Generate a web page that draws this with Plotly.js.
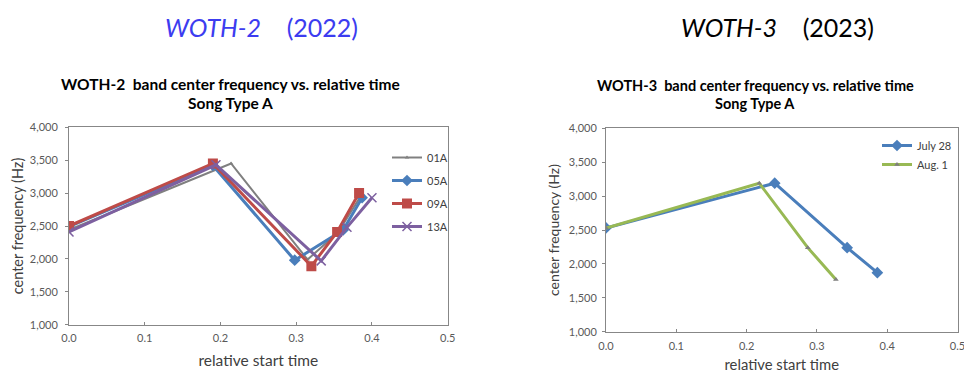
<!DOCTYPE html>
<html>
<head>
<meta charset="utf-8">
<script src="https://cdn.plot.ly/plotly-3.0.1.min.js"></script>
<style>html,body{margin:0;padding:0;background:#fff;}#chart{width:964px;height:373px;}</style>
</head>
<body>
<div id="chart"></div>
<script>
// WOTH-2 (2022) series
const t01A = [0.0, 0.214, 0.315, 0.355, 0.385];
const f01A = [2440, 3450, 1990, 2400, 2950];
const t05A = [0.0, 0.19, 0.298, 0.362, 0.387];
const f05A = [2490, 3420, 1980, 2440, 2930];
const t09A = [0.0, 0.19, 0.32, 0.354, 0.383];
const f09A = [2500, 3450, 1890, 2410, 3000];
const t13A = [0.0, 0.194, 0.333, 0.367, 0.40];
const f13A = [2410, 3430, 1970, 2480, 2930];
// WOTH-3 (2023) series
const tJuly28 = [0.0, 0.24, 0.343, 0.386];
const fJuly28 = [2530, 3190, 2240, 1870];
const tAug1 = [0.0, 0.218, 0.287, 0.327];
const fAug1 = [2530, 3190, 2240, 1770];
// ticks
const xTicks = [0, 0.1, 0.2, 0.3, 0.4, 0.5];
const yTicks = [1000, 1500, 2000, 2500, 3000, 3500, 4000];

const FONT = 'Lato, "Open Sans", sans-serif';
const traces = [
  {x: t01A, y: f01A, name: '01A', mode: 'lines+markers', xaxis: 'x', yaxis: 'y', legend: 'legend', legendgroup: 'a',
   line: {color: '#808080', width: 2}, marker: {symbol: 'triangle-up', size: 4, color: '#808080'}},
  {x: t05A, y: f05A, name: '05A', mode: 'lines+markers', xaxis: 'x', yaxis: 'y', legend: 'legend', legendgroup: 'b',
   line: {color: '#4A7EBB', width: 3}, marker: {symbol: 'diamond', size: 9, color: '#4A7EBB'}},
  {x: t09A, y: f09A, name: '09A', mode: 'lines+markers', xaxis: 'x', yaxis: 'y', legend: 'legend', legendgroup: 'c',
   line: {color: '#BE4B48', width: 3}, marker: {symbol: 'square', size: 10, color: '#BE4B48'}},
  {x: t13A, y: f13A, name: '13A', mode: 'lines+markers', xaxis: 'x', yaxis: 'y', legend: 'legend', legendgroup: 'd',
   line: {color: '#7D60A0', width: 3}, marker: {symbol: 'x-thin', size: 9, color: '#7D60A0', line: {color: '#7D60A0', width: 1.5}}},
  {x: tJuly28, y: fJuly28, name: 'July 28', mode: 'lines+markers', xaxis: 'x2', yaxis: 'y2', legend: 'legend2', legendgroup: 'e',
   line: {color: '#4A7EBB', width: 3}, marker: {symbol: 'diamond', size: 9, color: '#4A7EBB'}},
  {x: tAug1, y: fAug1, name: 'Aug. 1', mode: 'lines+markers', xaxis: 'x2', yaxis: 'y2', legend: 'legend2', legendgroup: 'f',
   line: {color: '#98B954', width: 3}, marker: {symbol: 'triangle-up', size: 5, color: '#7F7F7F'}}
];

function xAxis(domain, anchor, titleSize, standoff, lblOff) {
  return {domain: domain, anchor: anchor, range: [0, 0.5], tickvals: xTicks, tickformat: '.1f',
    showgrid: false, zeroline: false, showline: true, mirror: true, linecolor: '#878787', linewidth: 1,
    ticks: 'inside', ticklen: 3, tickcolor: '#878787', tickfont: {family: FONT, size: 11, color: '#595959'},
    ticklabelstandoff: lblOff, ticklabeloverflow: 'allow',
    title: {text: 'relative start time', font: {family: FONT, size: titleSize, color: '#404040'}, standoff: standoff},
    automargin: false, fixedrange: true};
}
function yAxis(domain, anchor, titleSize, standoff, lblOff) {
  return {domain: domain, anchor: anchor, range: [1000, 4000], tickvals: yTicks, tickformat: ',',
    showgrid: false, zeroline: false, showline: true, mirror: true, linecolor: '#878787', linewidth: 1,
    ticks: 'outside', ticklen: 3, tickcolor: '#878787', tickfont: {family: FONT, size: 11, color: '#595959'},
    ticklabelstandoff: lblOff, ticklabeloverflow: 'allow',
    title: {text: 'center frequency (Hz)', font: {family: FONT, size: titleSize, color: '#404040'}, standoff: standoff},
    automargin: false, fixedrange: true};
}

const layout = {
  width: 964, height: 373,
  margin: {l: 0, r: 0, t: 0, b: 0},
  paper_bgcolor: '#ffffff', plot_bgcolor: '#ffffff',
  font: {family: FONT},
  showlegend: true,
  xaxis: xAxis([69/964, 447.7/964], 'y', 15.5, 12, 3),
  yaxis: yAxis([1 - 324.7/373, 1 - 127.3/373], 'x', 14.5, 2, 5),
  xaxis2: xAxis([606/964, 957.5/964], 'y2', 14.8, 12, 4),
  yaxis2: yAxis([1 - 331.7/373, 1 - 128.3/373], 'x2', 14, 5, 3),
  legend: {x: 387/964, y: 1 - 143/373, xanchor: 'left', yanchor: 'top', bgcolor: 'rgba(0,0,0,0)',
    font: {family: FONT, size: 11, color: '#404040'}, tracegroupgap: 4, itemwidth: 30},
  legend2: {x: 877/964, y: 1 - 131/373, xanchor: 'left', yanchor: 'top', bgcolor: 'rgba(0,0,0,0)',
    font: {family: FONT, size: 11, color: '#404040'}, tracegroupgap: 0, itemwidth: 30},
  annotations: [
    {text: '<i>WOTH-2</i>\u00a0\u00a0\u00a0\u00a0(2022)', xref: 'paper', yref: 'paper', x: 261/964, y: 1 - 27/373,
     xanchor: 'center', yanchor: 'middle', showarrow: false, font: {family: FONT, size: 25, color: '#3C3CF0'}},
    {text: '<i>WOTH-3</i>\u00a0\u00a0\u00a0\u00a0(2023)', xref: 'paper', yref: 'paper', x: 777/964, y: 1 - 27/373,
     xanchor: 'center', yanchor: 'middle', showarrow: false, font: {family: FONT, size: 25, color: '#000000'}},
    {text: '<b>WOTH-2\u00a0\u00a0band center frequency vs. relative time</b>', xref: 'paper', yref: 'paper', x: 230/964, y: 1 - 84/373,
     xanchor: 'center', yanchor: 'middle', showarrow: false, font: {family: FONT, size: 15.5, color: '#000000'}},
    {text: '<b>Song Type A</b>', xref: 'paper', yref: 'paper', x: 230/964, y: 1 - 103/373,
     xanchor: 'center', yanchor: 'middle', showarrow: false, font: {family: FONT, size: 15.5, color: '#000000'}},
    {text: '<b>WOTH-3\u00a0\u00a0band center frequency vs. relative time</b>', xref: 'paper', yref: 'paper', x: 755/964, y: 1 - 86/373,
     xanchor: 'center', yanchor: 'middle', showarrow: false, font: {family: FONT, size: 14.5, color: '#000000'}},
    {text: '<b>Song Type A</b>', xref: 'paper', yref: 'paper', x: 755/964, y: 1 - 104/373,
     xanchor: 'center', yanchor: 'middle', showarrow: false, font: {family: FONT, size: 14.5, color: '#000000'}}
  ]
};

Plotly.newPlot('chart', traces, layout, {displayModeBar: false, staticPlot: true});
</script>
</body>
</html>
